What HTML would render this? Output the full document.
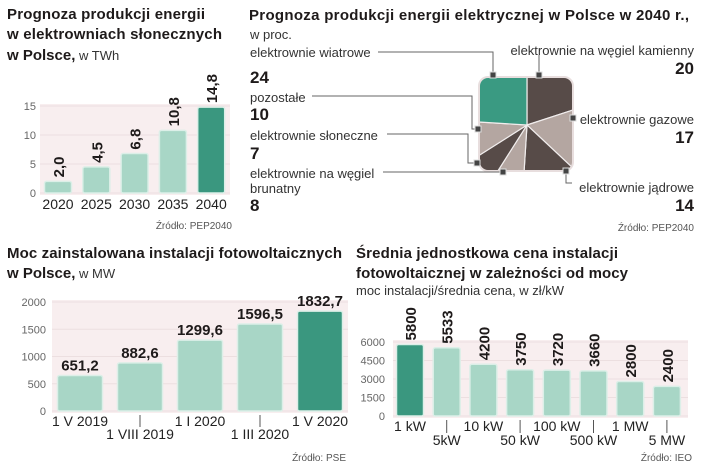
<!DOCTYPE html>
<html><head><meta charset="utf-8">
<style>
html,body{margin:0;padding:0;background:#fff;}
svg{display:block;font-family:"Liberation Sans Narrow","Liberation Sans",sans-serif;}
.t{font-weight:bold;font-size:15px;fill:#1e1a1a;}
.r{font-size:13px;fill:#333;}
.ax{font-size:11px;fill:#666;}
.cat{font-size:14px;fill:#222;}
.val{font-weight:bold;font-size:15px;fill:#1e1a1a;}
.src{font-size:10px;fill:#555;}
.lbl{font-size:13px;fill:#333;}
.big{font-weight:bold;font-size:17px;fill:#1e1a1a;}
</style></head><body>
<svg id="s" width="720" height="465" viewBox="0 0 720 465">
<text class="t" x="7" y="19" textLength="198">Prognoza produkcji energii</text>
<text class="t" x="7" y="39" textLength="215">w elektrowniach słonecznych</text>
<text x="7" y="60"><tspan class="t">w Polsce,</tspan><tspan class="r" font-size="14"> w TWh</tspan></text>
<text class="t" x="249" y="20" textLength="440">Prognoza produkcji energii elektrycznej w Polsce w 2040 r.,</text>
<text class="r" x="250" y="39">w proc.</text>
<text class="t" x="7" y="258" textLength="335">Moc zainstalowana instalacji fotowoltaicznych</text>
<text x="7" y="278"><tspan class="t">w Polsce,</tspan><tspan class="r" font-size="14"> w MW</tspan></text>
<text class="t" x="356" y="258" textLength="262">Średnia jednostkowa cena instalacji</text>
<text class="t" x="356" y="278" textLength="272">fotowoltaicznej w zależności od mocy</text>
<text class="r" x="356" y="295" font-size="14">moc instalacji/średnia cena, w zł/kW</text>
<text class="src" x="232" y="229" text-anchor="end">Źródło: PEP2040</text>
<text class="src" x="694" y="231" text-anchor="end">Źródło: PEP2040</text>
<text class="src" x="346" y="461" text-anchor="end">Źródło: PSE</text>
<text class="src" x="692" y="461" text-anchor="end">Źródło: IEO</text>
<g id="g1"></g><g id="g2"></g><g id="g3"></g><g id="g4"></g>
</svg>
<script>
var NS="http://www.w3.org/2000/svg";
function mk(p,t,a,txt){var e=document.createElementNS(NS,t);for(var k in a)e.setAttribute(k,a[k]);if(txt!=null)e.textContent=txt;p.appendChild(e);return e;}
var C_LIGHT="#a8d6c6",C_DARK="#3a977f",BG="#f8eeef";

var c1Cats=["2020","2025","2030","2035","2040"];
var c1Vals=[2.0,4.5,6.8,10.8,14.8];
var c1Labels=["2,0","4,5","6,8","10,8","14,8"];
var c1Ticks=[0,5,10,15];
var c2Names=["elektrownie na węgiel kamienny","elektrownie gazowe","elektrownie jądrowe","elektrownie na węgiel brunatny","elektrownie słoneczne","pozostałe","elektrownie wiatrowe"];
var c2Vals=[20,17,14,8,7,10,24];
var c3Cats=["1 V 2019","1 VIII 2019","1 I 2020","1 III 2020","1 V 2020"];
var c3Vals=[651.2,882.6,1299.6,1596.5,1832.7];
var c3Labels=["651,2","882,6","1299,6","1596,5","1832,7"];
var c3Ticks=[0,500,1000,1500,2000];
var c4Cats=["1 kW","5kW","10 kW","50 kW","100 kW","500 kW","1 MW","5 MW"];
var c4Vals=[5800,5533,4200,3750,3720,3660,2800,2400];
var c4Ticks=[0,1500,3000,4500,6000];

function barChart(g,o){
  var y=function(v){return o.y0-(v-o.min)/(o.max-o.min)*(o.y0-o.y1);};
  var bg=mk(g,"rect",{x:o.bx0,y:o.y1-2,width:o.bx1-o.bx0,height:o.y0-o.y1+4,fill:BG});
  
  
  o.ticks.forEach(function(t){
    var l=mk(g,"line",{x1:o.bx0,x2:o.bx1,y1:y(t),y2:y(t),stroke:"#ecdfe0","stroke-width":1});
    
    
    var tx=mk(g,"text",{x:o.axX,y:y(t)+4,"text-anchor":"end","class":"ax"},t);
    
    
  });
  o.vals.forEach(function(v,i){
    var cx=o.c0+i*o.step, top=y(v);
    var b=mk(g,"rect",{x:cx-o.bw/2,y:top,width:o.bw,height:o.y0-top,rx:2,fill:(i==o.hi?C_DARK:C_LIGHT),stroke:"#dcefe8","stroke-width":1.5});
    
    
    var t;
    if(o.rot){
      t=mk(g,"text",{x:cx+6,y:top-4,"class":"val",transform:"rotate(-90 "+(cx+6)+" "+(top-4)+")"},o.labels[i]);
    } else {
      t=mk(g,"text",{x:cx,y:top-5,"class":"val","text-anchor":"middle"},o.labels[i]);
    }
    
    
    var ly=o.catY+((o.alt&&i%2)?o.alt:0);
    var c=mk(g,"text",{x:cx,y:ly,"class":"cat","text-anchor":"middle"},o.cats[i]);
    
    
    if(o.alt&&i%2){
      var tk=mk(g,"line",{x1:cx,x2:cx,y1:o.y0+4,y2:ly-12,stroke:"#555"});
      
      
    }
  });
}
barChart(document.getElementById("g1"),{pre:"chart1",vals:c1Vals,labels:c1Labels,cats:c1Cats,ticks:c1Ticks,min:0,max:15,y0:193,y1:106,bx0:40,bx1:230,axX:36,c0:58,step:38.3,bw:27,hi:4,rot:true,catY:209});
barChart(document.getElementById("g3"),{pre:"chart3",vals:c3Vals,labels:c3Labels,cats:c3Cats,ticks:c3Ticks,min:0,max:2000,y0:411,y1:302,bx0:52,bx1:348,axX:46,c0:80,step:60,bw:45,hi:4,rot:false,catY:426,alt:13});
barChart(document.getElementById("g4"),{pre:"chart4",vals:c4Vals,labels:c4Vals.map(String),cats:c4Cats,ticks:c4Ticks,min:0,max:6000,y0:416,y1:342,bx0:393,bx1:688,axX:385,c0:410,step:36.7,bw:27,hi:0,rot:true,catY:431,alt:14});

(function(){
  var g=document.getElementById("g2");
  var defs=mk(g,"defs",{});
  var cp=mk(defs,"clipPath",{id:"sq"});
  mk(cp,"rect",{x:479,y:77,width:94,height:94,rx:9});
  var cx=527,cy=125,R=90,a=0,tot=0;
  c2Vals.forEach(function(v){tot+=v;});
  var cols=["#574b48","#b4a6a1","#574b48","#b4a6a1","#574b48","#b4a6a1","#3a9a82"];
  var pg=mk(g,"g",{"clip-path":"url(#sq)"});
  c2Vals.forEach(function(v,i){
    var a0=a/tot*2*Math.PI,a1=(a+v)/tot*2*Math.PI;a+=v;
    var x0=cx+R*Math.sin(a0),y0=cy-R*Math.cos(a0),x1=cx+R*Math.sin(a1),y1=cy-R*Math.cos(a1);
    var p=mk(pg,"path",{d:"M"+cx+","+cy+"L"+x0+","+y0+"A"+R+","+R+" 0 "+((a1-a0)>Math.PI?1:0)+" 1 "+x1+","+y1+"Z",fill:cols[i],stroke:"#f1eded","stroke-width":1.2});
    
    
  });
  var fr=mk(g,"rect",{x:479,y:77,width:94,height:94,rx:9,fill:"none",stroke:"#e8dede","stroke-width":2});
  
  
  var lines=["M378,52H493V75","M312,96H472V129H478","M387,134H468V163H477","M383,172H503","M539,55V75","M573,118H576","M566,171V183H572"];
  lines.forEach(function(d){
    var l=mk(g,"path",{d:d,fill:"none",stroke:"#666","stroke-width":1});
    
    
  });
  [[493,75],[539,75],[478,129],[477,163],[503,172],[573,118],[566,171]].forEach(function(p){
    var m=mk(g,"rect",{x:p[0]-3,y:p[1]-3,width:6,height:6,fill:"#444",stroke:"#ddd","stroke-width":1});
    
    
  });
  var L=[[["elektrownie wiatrowe"],250,57,"start",83,6],[["pozostałe"],250,102,"start",120,5],[["elektrownie słoneczne"],250,140,"start",159,4],[["elektrownie na węgiel","brunatny"],250,178,"start",211,3],
         [["elektrownie na węgiel kamienny"],694,55,"end",74,0],[["elektrownie gazowe"],694,124,"end",143,1],[["elektrownie jądrowe"],694,192,"end",211,2]];
  L.forEach(function(l){
    l[0].forEach(function(s,k){
      var t=mk(g,"text",{x:l[1],y:l[2]+k*15,"text-anchor":l[3],"class":"lbl"},s);
      
      
    });
    var v=mk(g,"text",{x:l[1],y:l[4],"text-anchor":l[3],"class":"big","font-size":(l[5]==6?20:17)},c2Vals[l[5]]);
    
    
  });
})();
</script>
</body></html>
